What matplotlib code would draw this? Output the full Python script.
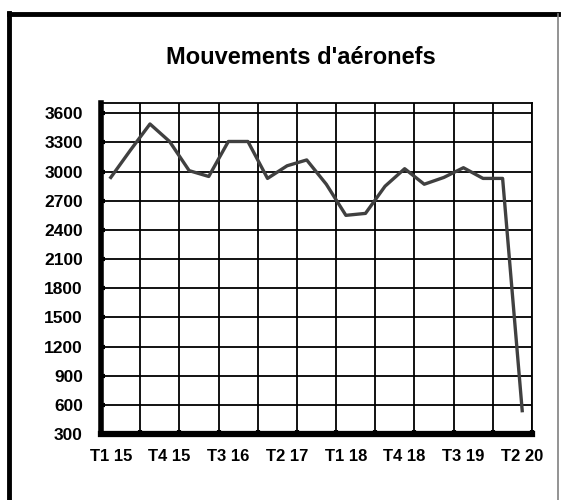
import matplotlib
matplotlib.use("Agg")
from matplotlib import pyplot as plt
from matplotlib.lines import Line2D
from matplotlib.ticker import FixedLocator

# Quarterly aircraft movements, T1 2015 .. T2 2020
quarters = ["T1 15", "T2 15", "T3 15", "T4 15",
            "T1 16", "T2 16", "T3 16", "T4 16",
            "T1 17", "T2 17", "T3 17", "T4 17",
            "T1 18", "T2 18", "T3 18", "T4 18",
            "T1 19", "T2 19", "T3 19", "T4 19",
            "T1 20", "T2 20"]
movements = [2940, 3220, 3490, 3310, 3010, 2950, 3310, 3310, 2930, 3060,
             3120, 2870, 2550, 2570, 2850, 3030, 2870, 2940, 3040, 2930,
             2930, 540]
y_ticks = list(range(300, 3601, 300))

plt.rcParams["font.family"] = ["Liberation Sans", "DejaVu Sans"]

fig = plt.figure(figsize=(5.61, 5.00), dpi=100)
ax = fig.add_axes([101 / 561, 66 / 500, 431 / 561, 331 / 500])

x = list(range(len(quarters)))
ax.plot(x, movements, color="#404040", linewidth=2.4, zorder=3)

# Axis ranges
ax.set_xlim(-0.5, len(quarters) - 0.5)
ax.set_ylim(300, 3706)

# Tick labels every third quarter, gridlines every second quarter
label_pos = x[::3]
ax.xaxis.set_major_locator(FixedLocator(label_pos))
ax.set_xticklabels([quarters[i] for i in label_pos], fontsize=12, fontweight="bold")
ax.xaxis.set_minor_locator(FixedLocator([k - 0.5 for k in range(2, len(quarters) + 1, 2)]))
ax.set_yticks(y_ticks)
ax.set_yticklabels([str(v) for v in y_ticks], fontsize=12.5, fontweight="bold")

ax.tick_params(axis="x", which="major", length=0, pad=11)
ax.tick_params(axis="x", which="minor", direction="in", length=3, width=3, color="black")
ax.tick_params(axis="y", which="major", direction="in", length=3, width=3, pad=13)

ax.grid(True, axis="y", which="major", color="black", linewidth=1.3)
ax.grid(True, axis="x", which="minor", color="black", linewidth=1.3)
ax.set_axisbelow(True)

# Spines
ax.spines["left"].set_linewidth(4)
ax.spines["bottom"].set_linewidth(4.5)
ax.spines["top"].set_linewidth(1.3)
ax.spines["right"].set_linewidth(1.3)

# Title
fig.text(301 / 561, 1 - 58 / 500, "Mouvements d'aéronefs", ha="center", va="center",
         fontsize=17, fontweight="bold")

# Outer frame (left and top thick, right thin)
fig.add_artist(Line2D([9 / 561, 9 / 561], [0, 1 - 13 / 500], color="black", linewidth=3.5,
                      solid_capstyle="projecting"))
fig.add_artist(Line2D([9 / 561, 558 / 561], [1 - 14 / 500, 1 - 14 / 500], color="black", linewidth=3.5))
fig.add_artist(Line2D([558 / 561, 558 / 561], [0, 1 - 14 / 500], color="#808080", linewidth=1.2))

plt.savefig("out.png", dpi=100)
